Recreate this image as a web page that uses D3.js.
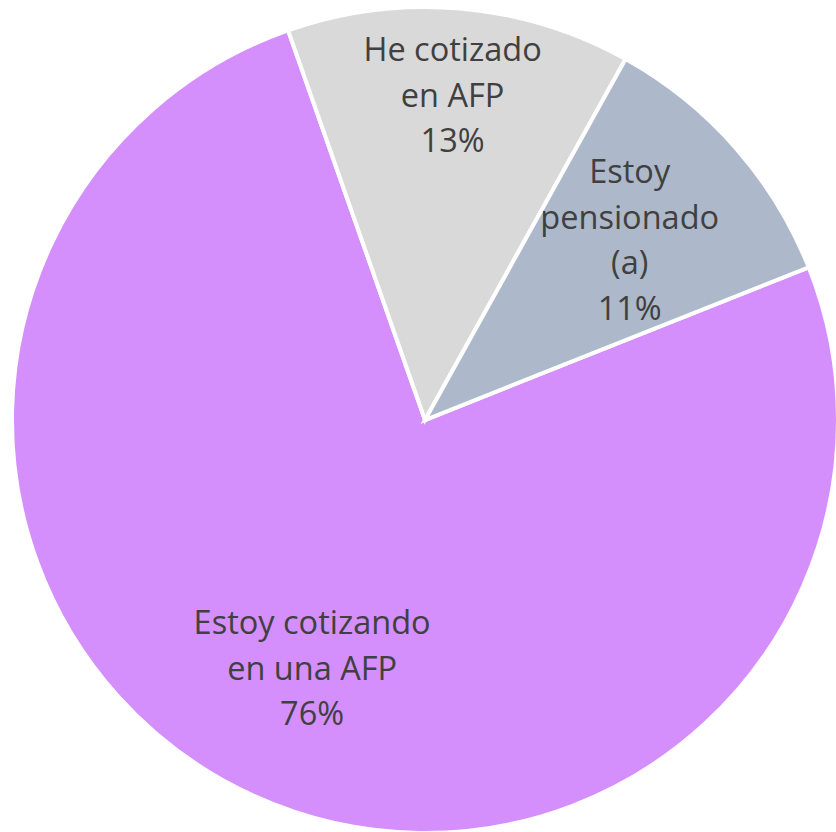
<!DOCTYPE html>
<html>
<head>
<meta charset="utf-8">
<script src="https://cdn.jsdelivr.net/npm/d3@7"></script>
<style>
html,body{margin:0;padding:0;background:#fff;overflow:hidden;}
svg{display:block;}
</style>
</head>
<body>
<svg id="chart" width="836" height="832"></svg>
<script>
// Data
const categories = [["Estoy cotizando", "en una AFP"], ["He cotizado", "en AFP"], ["Estoy", "pensionado", "(a)"]];
const values = [75.65, 13.45, 10.9];
const percentLabels = ["76%", "13%", "11%"];
const colors = ["#D58FFC", "#D9D9D9", "#ADB9CA"];

const width = 836, height = 832;
const cx = 425, cy = 420, radius = 413;
const startDeg = 68.3;
const labelRadiusFactor = [0.66, 0.79, 0.66];

const svg = d3.select("#chart");
const g = svg.append("g").attr("transform", `translate(${cx},${cy})`);

const pie = d3.pie().sort(null).value(d => d)
  .startAngle(startDeg * Math.PI / 180)
  .endAngle(startDeg * Math.PI / 180 + 2 * Math.PI);
const arcs = pie(values);
const arc = d3.arc().innerRadius(0).outerRadius(radius);

g.selectAll("path.slice").data(arcs).enter().append("path")
  .attr("class", "slice")
  .attr("d", arc)
  .attr("fill", (d, i) => colors[i])
  .attr("stroke", "#fff")
  .attr("stroke-width", 4)
  .attr("stroke-linejoin", "miter");

const lineH = 45.5;
arcs.forEach((d, i) => {
  const r = radius * labelRadiusFactor[i];
  const la = d3.arc().innerRadius(r).outerRadius(r);
  const [lx, ly] = la.centroid(d);
  const lines = categories[i].concat([percentLabels[i]]);
  const n = lines.length;
  const t = g.append("text")
    .attr("text-anchor", "middle")
    .attr("font-family", "'Open Sans', sans-serif")
    .attr("font-size", 32.5)
    .attr("fill", "#404040");
  lines.forEach((ln, k) => {
    t.append("tspan")
      .attr("x", lx)
      .attr("y", ly + (k - (n - 1) / 2) * lineH)
      .attr("dy", "0.36em")
      .text(ln);
  });
});
</script>
</body>
</html>
